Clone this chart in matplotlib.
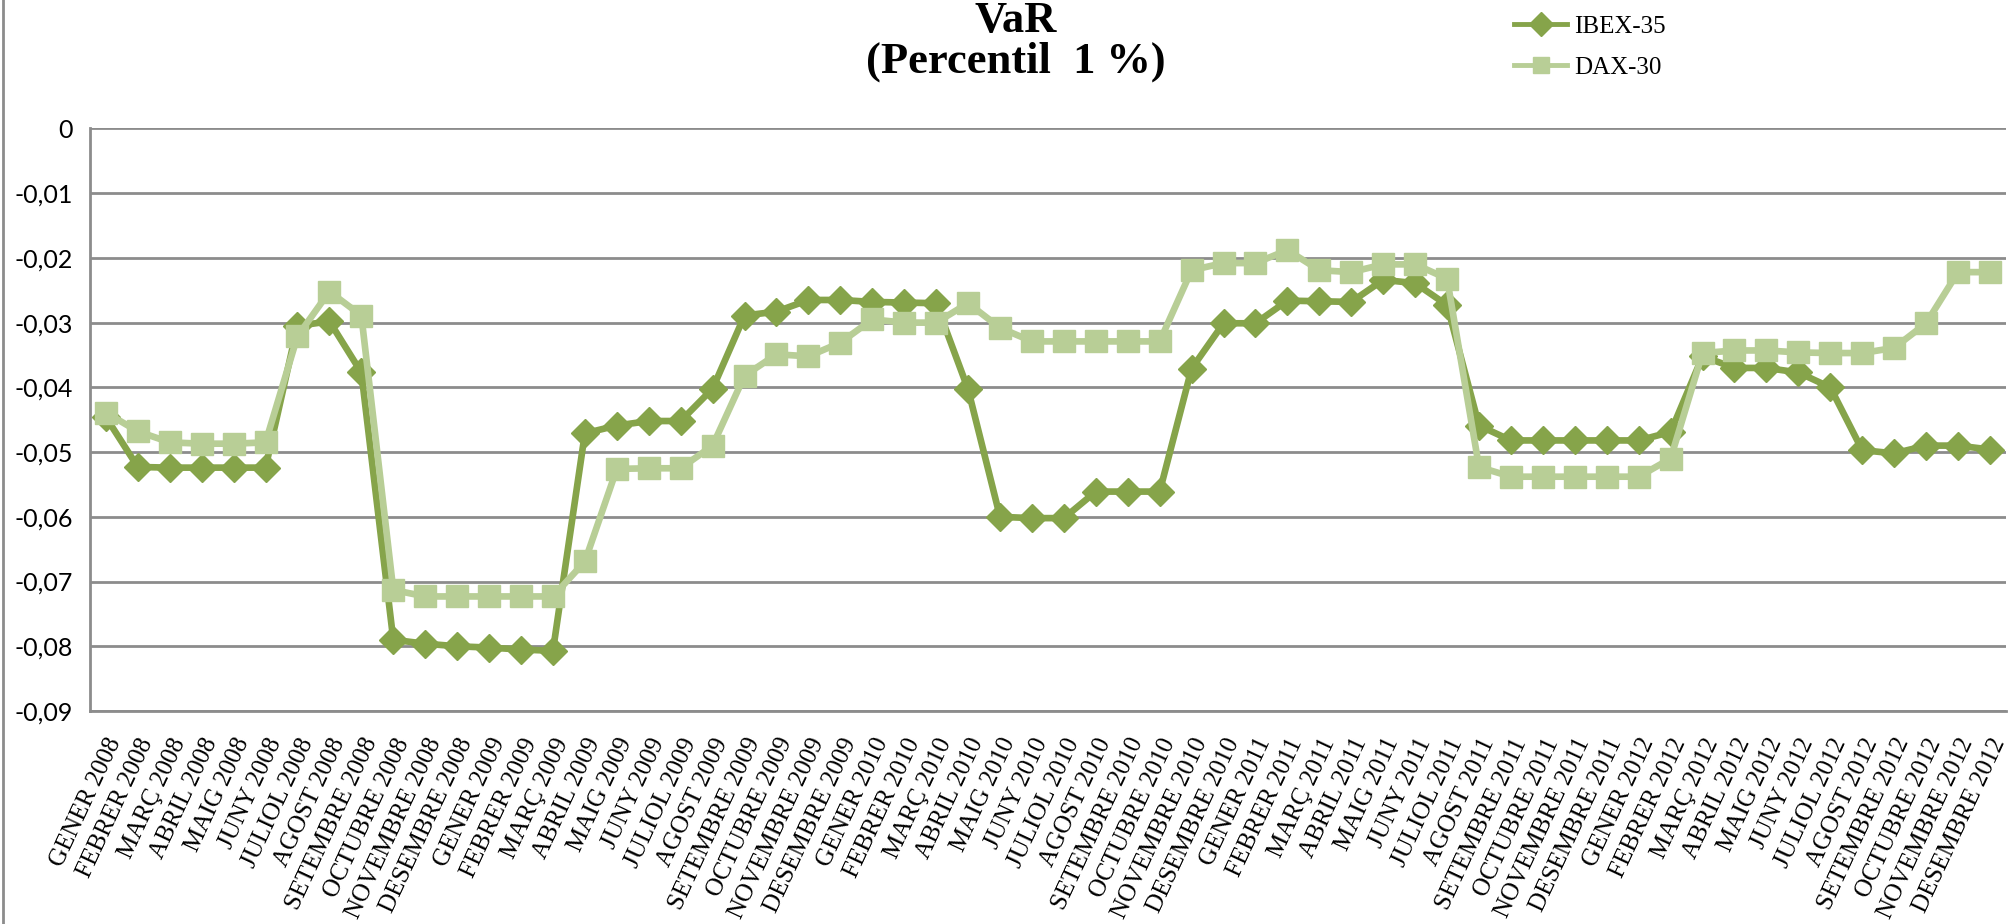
import matplotlib
matplotlib.use("Agg")
import matplotlib.pyplot as plt
from matplotlib.lines import Line2D
from matplotlib.ticker import FuncFormatter

# Mesos (en català) de gener 2008 a desembre 2012
mesos = ["GENER", "FEBRER", "MARÇ", "ABRIL", "MAIG", "JUNY", "JULIOL",
         "AGOST", "SETEMBRE", "OCTUBRE", "NOVEMBRE", "DESEMBRE"]
anys = [2008, 2009, 2010, 2011, 2012]
etiquetes = [f"{m} {a}" for a in anys for m in mesos]

ibex35 = [
    -0.0446, -0.0523, -0.0524, -0.0524, -0.0524, -0.0524,
    -0.0305, -0.0298, -0.0377, -0.0790, -0.0796, -0.0800,
    -0.0802, -0.0805, -0.0807, -0.0471, -0.0459, -0.0452,
    -0.0452, -0.0402, -0.0289, -0.0283, -0.0265, -0.0265,
    -0.0268, -0.0269, -0.0270, -0.0403, -0.0600, -0.0602,
    -0.0602, -0.0561, -0.0561, -0.0561, -0.0371, -0.0301,
    -0.0301, -0.0266, -0.0267, -0.0268, -0.0234, -0.0239,
    -0.0273, -0.0459, -0.0482, -0.0482, -0.0482, -0.0482,
    -0.0482, -0.0469, -0.0352, -0.0370, -0.0370, -0.0377,
    -0.0400, -0.0497, -0.0502, -0.0490, -0.0490, -0.0496,
]

dax30 = [
    -0.0439, -0.0468, -0.0485, -0.0487, -0.0487, -0.0485,
    -0.0321, -0.0252, -0.0289, -0.0713, -0.0723, -0.0723,
    -0.0723, -0.0723, -0.0723, -0.0669, -0.0526, -0.0525,
    -0.0525, -0.0490, -0.0382, -0.0349, -0.0352, -0.0331,
    -0.0295, -0.0300, -0.0300, -0.0270, -0.0308, -0.0329,
    -0.0329, -0.0329, -0.0329, -0.0329, -0.0219, -0.0208,
    -0.0208, -0.0188, -0.0219, -0.0222, -0.0210, -0.0210,
    -0.0232, -0.0523, -0.0538, -0.0538, -0.0538, -0.0538,
    -0.0538, -0.0510, -0.0347, -0.0343, -0.0343, -0.0346,
    -0.0347, -0.0347, -0.0339, -0.0301, -0.0222, -0.0222,
]

color_ibex = "#86A44A"
color_dax = "#B8CE96"
gris = "#8C8C8C"

fig = plt.figure(figsize=(20.16, 9.24), dpi=100)
ax = fig.add_axes([0.0446, 0.2305, 0.9504, 0.6305])

x = list(range(len(etiquetes)))
ax.plot(x, ibex35, color=color_ibex, lw=4.8, marker="D", ms=14,
        mec=color_ibex, mfc=color_ibex, label="IBEX-35", zorder=3)
ax.plot(x, dax30, color=color_dax, lw=4.8, marker="s", ms=16,
        mec=color_dax, mfc=color_dax, label="DAX-30", zorder=4)

ax.set_xlim(-0.5, len(etiquetes) - 0.5)
ax.set_ylim(-0.09, 0)
ax.set_yticks([i * -0.01 for i in range(10)])
ax.yaxis.set_major_formatter(
    FuncFormatter(lambda v, p: "0" if abs(v) < 1e-9 else f"{v:.2f}".replace(".", ",")))
ax.grid(axis="y", color=gris, lw=2)
ax.set_axisbelow(True)

for s in ["top", "right"]:
    ax.spines[s].set_visible(False)
for s in ["left", "bottom"]:
    ax.spines[s].set_color(gris)
    ax.spines[s].set_linewidth(2)

ax.tick_params(axis="y", length=0, pad=12, labelsize=18)
for t in ax.get_yticklabels():
    t.set_fontfamily("Lato")

ax.set_xticks(x)
ax.set_xticklabels(etiquetes, rotation=65, ha="right", rotation_mode="anchor",
                   fontfamily="Liberation Serif", fontsize=18)
ax.tick_params(axis="x", length=0, pad=17)

# Títol
fig.text(0.504, 0.999, "VaR", ha="center", va="top", fontsize=32,
         fontweight="bold", fontfamily="Liberation Serif")
fig.text(0.504, 0.933, "(Percentil  1 %)", ha="center", va="center", fontsize=32,
         fontweight="bold", fontfamily="Liberation Serif")

leg = fig.legend(loc="upper left", bbox_to_anchor=(0.740, 1.008), frameon=False,
                 prop={"family": "Liberation Serif", "size": 18},
                 handlelength=2.1, handletextpad=0.3, labelspacing=0.75)
for h in leg.legend_handles:
    h.set_markersize(12)
    h.set_linewidth(3.5)

# Vora esquerra del gràfic
fig.add_artist(Line2D([0.0015, 0.0015], [0, 1], color=gris, lw=2,
                      transform=fig.transFigure))

fig.savefig("out.png", dpi=100)
